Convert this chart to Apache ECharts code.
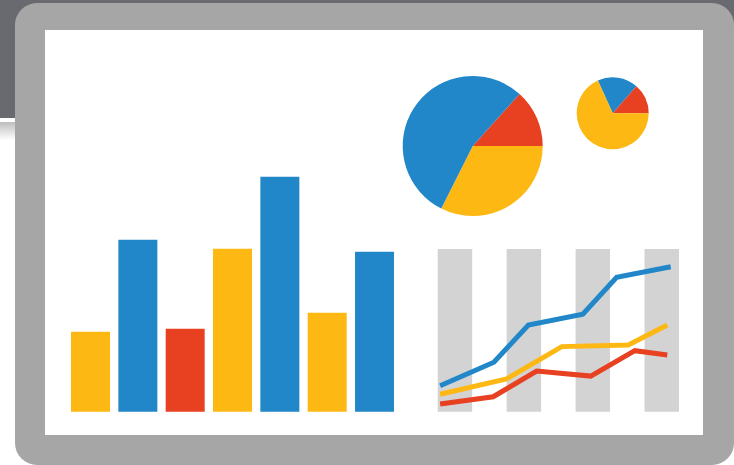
<!DOCTYPE html>
<html>
<head>
<meta charset="utf-8">
<script src="https://cdn.jsdelivr.net/npm/echarts@6/dist/echarts.min.js"></script>
<style>
html,body{margin:0;padding:0;background:#fff;}
#chart{width:734px;height:465px;}
</style>
</head>
<body>
<div id="chart"></div>
<script>
// ---- data ----
const barCategories = ['A', 'B', 'C', 'D', 'E', 'F', 'G'];
const barValues = [80, 172, 83, 163, 235, 99, 160];
const barGroups = ['yellow', 'blue', 'red', 'yellow', 'blue', 'yellow', 'blue'];

const stripeCategories = ['1', '2', '3', '4', '5', '6', '7'];

const blueLine = [[0.07, 16], [1.63, 30.4], [2.63, 53.3], [4.21, 59.9], [5.19, 82.6], [6.76, 89.1]];
const yellowLine = [[0.07, 10.7], [2.0, 20.1], [3.6, 40], [5.53, 41], [6.66, 53.3]];
const redLine = [[0.07, 4.7], [1.61, 9.2], [2.87, 25], [4.44, 21.9], [5.72, 37.5], [6.66, 34.9]];

const bigPieNames = ['red', 'yellow', 'blue'];
const bigPieValues = [48, 116.7, 195.3];
const smallPieNames = ['blue', 'red', 'yellow'];
const smallPieValues = [65.5, 48.8, 245.7];

// ---- styles ----
const COLORS = { blue: '#2187c8', red: '#e84122', yellow: '#fdb813' };

const chart = echarts.init(document.getElementById('chart'), null, { renderer: 'canvas' });

const hiddenAxis = {
  axisLine: { show: false }, axisTick: { show: false },
  axisLabel: { show: false }, splitLine: { show: false }
};

const option = {
  animation: false,
  backgroundColor: '#ffffff',
  graphic: [
    { type: 'rect', z: -20, silent: true, shape: { x: 0, y: 0, width: 734, height: 118 }, style: { fill: '#696a6f' } },
    { type: 'rect', z: -20, silent: true, shape: { x: 0, y: 122, width: 30, height: 18 },
      style: { fill: new echarts.graphic.LinearGradient(0, 0, 0, 1, [
        { offset: 0, color: '#bdbdbd' }, { offset: 1, color: '#ffffff' }]) } },
    { type: 'rect', z: -15, silent: true, shape: { x: 15, y: 3, width: 719, height: 462, r: 22 }, style: { fill: '#a6a6a6' } },
    { type: 'rect', z: -10, silent: true, shape: { x: 45, y: 30, width: 658, height: 405 }, style: { fill: '#ffffff' } }
  ],
  grid: [
    { left: 66.85, top: 161.7, width: 331.35, height: 250 },
    { left: 437.7, top: 249, width: 241.3, height: 162.7 }
  ],
  xAxis: [
    Object.assign({ type: 'category', gridIndex: 0, data: barCategories }, hiddenAxis),
    Object.assign({ type: 'category', gridIndex: 1, data: stripeCategories, boundaryGap: true }, hiddenAxis, {
      splitArea: { show: true, interval: 0, areaStyle: { color: ['#d3d3d3', 'rgba(255,255,255,0)'] } }
    }),
    Object.assign({ type: 'value', gridIndex: 1, min: 0, max: 7, show: false }, hiddenAxis)
  ],
  yAxis: [
    Object.assign({ type: 'value', gridIndex: 0, min: 0, max: 250, show: false }, hiddenAxis),
    Object.assign({ type: 'value', gridIndex: 1, min: 0, max: 100, show: false }, hiddenAxis)
  ],
  series: [
    {
      type: 'bar', xAxisIndex: 0, yAxisIndex: 0, barWidth: 39, silent: true,
      data: barValues.map((v, i) => ({ value: v, itemStyle: { color: COLORS[barGroups[i]] } }))
    },
    {
      type: 'line', xAxisIndex: 2, yAxisIndex: 1, data: redLine, showSymbol: false, silent: true,
      lineStyle: { color: COLORS.red, width: 5, cap: 'butt', join: 'miter' }
    },
    {
      type: 'line', xAxisIndex: 2, yAxisIndex: 1, data: yellowLine, showSymbol: false, silent: true,
      lineStyle: { color: COLORS.yellow, width: 5, cap: 'butt', join: 'miter' }
    },
    {
      type: 'line', xAxisIndex: 2, yAxisIndex: 1, data: blueLine, showSymbol: false, silent: true,
      lineStyle: { color: COLORS.blue, width: 5, cap: 'butt', join: 'miter' }
    },
    {
      type: 'pie', center: [472.7, 146], radius: [0, 70], startAngle: 48, clockwise: true, silent: true,
      label: { show: false }, labelLine: { show: false }, emphasis: { disabled: true },
      data: bigPieNames.map((n, i) => ({ name: 'big-' + n, value: bigPieValues[i], itemStyle: { color: COLORS[n] } }))
    },
    {
      type: 'pie', center: [612.7, 113.3], radius: [0, 36], startAngle: 114.3, clockwise: true, silent: true,
      label: { show: false }, labelLine: { show: false }, emphasis: { disabled: true },
      data: smallPieNames.map((n, i) => ({ name: 'small-' + n, value: smallPieValues[i], itemStyle: { color: COLORS[n] } }))
    }
  ]
};
chart.setOption(option);
</script>
</body>
</html>
